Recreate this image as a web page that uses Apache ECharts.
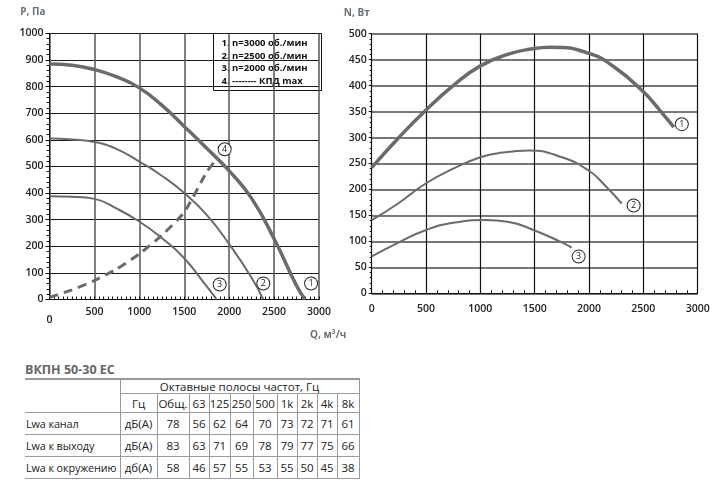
<!DOCTYPE html>
<html>
<head>
<meta charset="utf-8">
<script src="https://cdn.jsdelivr.net/npm/echarts@6/dist/echarts.min.js"></script>
<style>
  body { margin: 0; background: #fff; font-family: 'Open Sans', sans-serif; }
  #chart { width: 713px; height: 345px; }
  .title { position: absolute; left: 25px; top: 361px; font-size: 12.5px; font-weight: 700; color: #666; }
  table { position: absolute; left: 25px; top: 378px; border-collapse: collapse; font-size: 11.5px; color: #222; }
  td { border: 1px solid #9a9a9a; padding: 0; text-align: center; line-height: 13px; white-space: nowrap; overflow: visible; }
  td.name { text-align: left; border-left: none; padding-left: 1px; font-size: 10.8px; letter-spacing: -0.1px; }
  tr.h1 td { height: 13px; border-top: 2px solid #999; }
  tr.h2 td { height: 18px; }
  tr.d td { height: 21px; }
</style>
</head>
<body>
<div id="chart"></div>
<div class="title">ВКПН 50-30 ЕС</div>
<table id="lwa"></table>
<script>
// P(Q) curves, Q in m3/h, P in Pa
const pressure3000 = [[0, 885], [250, 880], [500, 864], [750, 836], [1000, 795], [1250, 730], [1500, 650], [1750, 568], [2000, 483], [2250, 380], [2500, 228], [2750, 52], [2845, 0]];
const pressure2500 = [[0, 605], [250, 601], [500, 592], [750, 565], [1000, 518], [1250, 465], [1500, 400], [1750, 318], [2000, 208], [2250, 82], [2380, 0]];
const pressure2000 = [[0, 388], [250, 386], [500, 378], [750, 341], [1000, 293], [1250, 231], [1500, 155], [1750, 49], [1861, 0]];
const efficiencyMax = [[0, 8], [250, 36], [500, 71], [750, 115], [1000, 171], [1250, 241], [1500, 328], [1750, 479], [1850, 523]];

// N(Q) curves, W
const power3000 = [[0, 242], [250, 300], [500, 353], [750, 400], [1000, 438], [1250, 460], [1450, 470], [1650, 474], [2000, 462], [2250, 433], [2500, 388], [2650, 353], [2780, 320]];
const power2500 = [[0, 141], [250, 174], [500, 212], [750, 240], [1000, 262], [1200, 271], [1450, 275], [1750, 262], [2000, 236], [2150, 207], [2300, 173]];
const power2000 = [[0, 71], [250, 98], [500, 122], [750, 136], [1050, 141], [1250, 138], [1500, 121], [1750, 98], [1840, 88]];

const legendLines = ['1. n=3000 об./мин', '2. n=2500 об./мин', '3. n=2000 об./мин', '4. -------- КПД max'];

// noise table
const bandLabels = ['Гц', 'Общ.', '63', '125', '250', '500', '1k', '2k', '4k', '8k'];
const rowNames = ['Lwa канал', 'Lwa к выходу', 'Lwa к окружению'];
const rowUnits = ['дБ(А)', 'дБ(А)', 'дб(А)'];
const lwaDuct = [78, 56, 62, 64, 70, 73, 72, 71, 61];
const lwaOutlet = [83, 63, 71, 69, 78, 79, 77, 75, 66];
const lwaAmbient = [58, 46, 57, 55, 53, 55, 50, 45, 38];

const curveColor = '#6b6b6b';
const tickFont = { color: '#222', fontSize: 10.5, fontWeight: 600, fontFamily: 'Open Sans' };
const nameFont = { color: '#6a7078', fontSize: 10, fontWeight: 700, fontFamily: 'Open Sans' };

function circleLabel(text, dx, dy) {
  return {
    show: true,
    formatter: text,
    distance: 0,
    align: 'center',
    verticalAlign: 'middle',
    offset: [dx, dy],
    width: 12,
    height: 12,
    lineHeight: 12,
    borderColor: '#222',
    borderWidth: 1,
    borderRadius: 7,
    backgroundColor: '#fff',
    color: '#222',
    fontSize: 9,
    fontFamily: 'Open Sans'
  };
}

function curve(name, data, axis, width, label, dashed) {
  return {
    name: name,
    type: 'line',
    xAxisIndex: axis,
    yAxisIndex: axis,
    data: data,
    smooth: dashed ? 0.2 : 0.5,
    showSymbol: false,
    symbol: 'none',
    silent: true,
    lineStyle: { color: curveColor, width: width, type: dashed ? [9, 6] : 'solid' },
    endLabel: label
  };
}

const plain = (v) => String(v);

const chart = echarts.init(document.getElementById('chart'));
chart.setOption({
  animation: false,
  backgroundColor: '#fff',
  grid: [
    { left: 49.5, top: 33.3, width: 269.5, height: 266.2 },
    { left: 371.7, top: 33.7, width: 326, height: 259.6 }
  ],
  xAxis: [
    {
      gridIndex: 0, type: 'value', min: 0, max: 3000, interval: 500,
      name: 'Q, м³/ч', nameLocation: 'end', nameGap: -9,
      nameTextStyle: Object.assign({}, nameFont, { align: 'left', verticalAlign: 'top', padding: [31, 0, 0, 0] }),
      axisLine: { lineStyle: { color: '#111', width: 1 } },
      axisTick: { show: true, inside: true, length: 3, lineStyle: { color: '#111' } },
      minorTick: { show: true, splitNumber: 10, length: 3, lineStyle: { color: '#111' } },
      axisLabel: Object.assign({}, tickFont, {
        margin: 7,
        formatter: (v) => (v === 0 ? '{z|0}' : String(v)),
        rich: { z: { padding: [8, 0, 0, 0], fontSize: 10.5, fontWeight: 600, color: '#222' } }
      }),
      splitLine: { show: true, lineStyle: { color: '#555', width: 1.5 } }
    },
    {
      gridIndex: 1, type: 'value', min: 0, max: 3000, interval: 500,
      axisLine: { lineStyle: { color: '#111', width: 1 } },
      axisTick: { show: true, inside: true, length: 3, lineStyle: { color: '#111' } },
      minorTick: { show: true, splitNumber: 5, length: 3, lineStyle: { color: '#111' } },
      axisLabel: Object.assign({}, tickFont, { margin: 10, formatter: plain }),
      splitLine: { show: true, lineStyle: { color: '#111', width: 1.2 } }
    }
  ],
  yAxis: [
    {
      gridIndex: 0, type: 'value', min: 0, max: 1000, interval: 100,
      name: 'P, Па', nameGap: 16,
      nameTextStyle: Object.assign({}, nameFont, { align: 'right', padding: [0, 4, 0, 0] }),
      axisLine: { lineStyle: { color: '#111', width: 1 } },
      axisTick: { show: true, length: 4, lineStyle: { color: '#111' } },
      minorTick: { show: true, splitNumber: 5, length: 3, lineStyle: { color: '#111' } },
      axisLabel: Object.assign({}, tickFont, { margin: 6, formatter: plain }),
      splitLine: { show: true, lineStyle: { color: '#1a1a1a', width: 1.2 } }
    },
    {
      gridIndex: 1, type: 'value', min: 0, max: 500, interval: 50,
      name: 'N, Вт', nameGap: 16,
      nameTextStyle: Object.assign({}, nameFont, { align: 'right', padding: [0, 2, 0, 0] }),
      axisLine: { lineStyle: { color: '#111', width: 1 } },
      axisTick: { show: true, length: 3, lineStyle: { color: '#111' } },
      minorTick: { show: true, splitNumber: 5, length: 2, lineStyle: { color: '#111' } },
      axisLabel: Object.assign({}, tickFont, { margin: 5, formatter: plain }),
      splitLine: { show: true, lineStyle: { color: '#777', width: 2 } }
    }
  ],
  graphic: [
    {
      type: 'group', left: 213, top: 33,
      children: [
        { type: 'rect', shape: { x: 0, y: 0, width: 108, height: 57 }, style: { fill: '#fff', stroke: '#111', lineWidth: 1 } },
        {
          type: 'text', x: 8, y: 4,
          style: {
            text: legendLines.join('\n'), fill: '#111',
            fontSize: 9.5, fontWeight: 'bold', fontFamily: 'Open Sans', lineHeight: 12.5
          }
        }
      ]
    }
  ],
  series: [
    curve('P 3000', pressure3000, 0, 3.5, circleLabel('1', 6, -16)),
    curve('P 2500', pressure2500, 0, 2, circleLabel('2', 0, -16)),
    curve('P 2000', pressure2000, 0, 2, circleLabel('3', 3, -15)),
    curve('КПД max', efficiencyMax, 0, 3, circleLabel('4', 9, -11), true),
    curve('N 3000', power3000, 1, 3.5, circleLabel('1', 8, -3)),
    curve('N 2500', power2500, 1, 2, circleLabel('2', 12, 2)),
    curve('N 2000', power2000, 1, 2, circleLabel('3', 7, 9))
  ]
});

// noise table
const colWidths = [95, 37, 32, 20, 21, 23, 24, 20, 20, 20, 22];
const table = document.getElementById('lwa');
let html = '<colgroup>' + colWidths.map((w) => '<col style="width:' + w + 'px">').join('') + '</colgroup>';
html += '<tr class="h1"><td class="name" style="border-bottom:none"></td><td colspan="10">Октавные полосы частот, Гц</td></tr>';
html += '<tr class="h2"><td class="name" style="border-top:none"></td>' + bandLabels.map((b) => '<td>' + b + '</td>').join('') + '</tr>';
[lwaDuct, lwaOutlet, lwaAmbient].forEach((row, i) => {
  html += '<tr class="d"><td class="name">' + rowNames[i] + '</td><td>' + rowUnits[i] + '</td>' +
    row.map((v) => '<td>' + v + '</td>').join('') + '</tr>';
});
table.innerHTML = html;
table.style.width = colWidths.reduce((a, b) => a + b, 0) + 'px';
table.style.tableLayout = 'fixed';
</script>
</body>
</html>
